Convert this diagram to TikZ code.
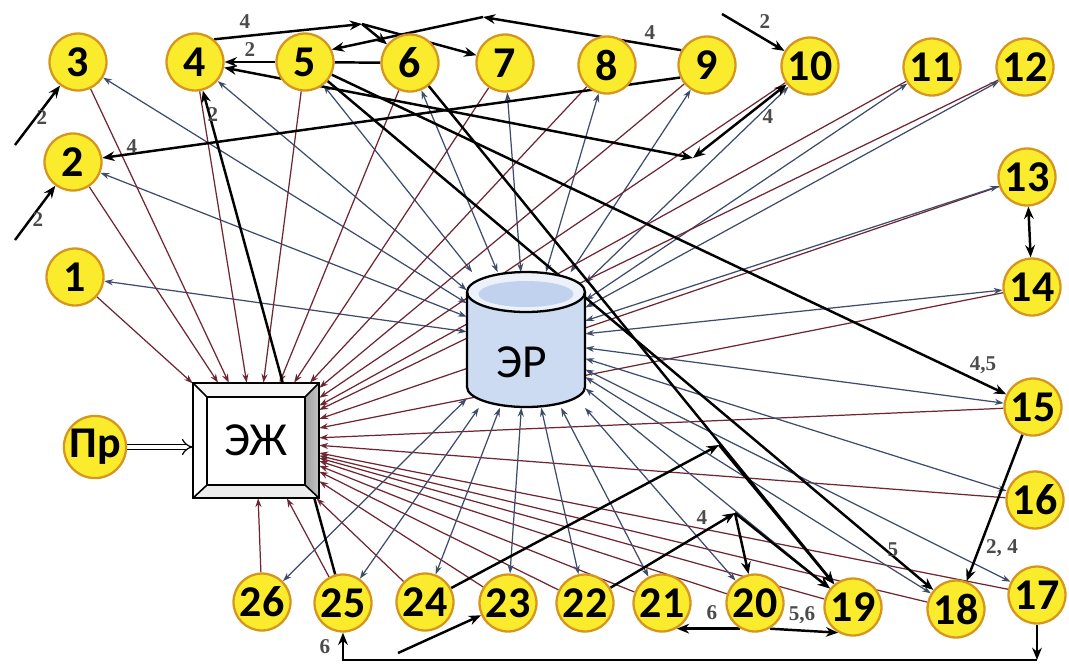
\documentclass[tikz,border=0pt]{standalone}
\usepackage{fontspec}
\setmainfont{Carlito}
\newfontfamily\lblfont{Liberation Serif}
\usetikzlibrary{arrows.meta}
\pgfdeclarelayer{paper}
\pgfdeclarelayer{bg}
\pgfsetlayers{paper,bg,main}
\definecolor{yel}{RGB}{250,236,45}
\definecolor{ora}{RGB}{214,150,30}
\definecolor{redl}{RGB}{110,38,50}
\definecolor{bluel}{RGB}{62,76,108}
\definecolor{lblc}{RGB}{75,75,75}
\definecolor{erfill}{RGB}{204,219,241}
\definecolor{ertop}{RGB}{236,241,250}
\definecolor{erin}{RGB}{192,210,238}
\begin{document}
\begin{tikzpicture}[x=0.02cm,y=-0.02cm,
  cnode/.style={circle, draw=ora, line width=1.3pt, fill=yel, minimum size=1.14cm, inner sep=0pt, font=\bfseries\fontsize{25}{25}\selectfont},
  redln/.style={draw=redl, line width=0.7pt, -{Stealth[length=5pt,width=3.5pt]}},
  blueln/.style={draw=bluel, line width=0.7pt, {Stealth[length=5pt,width=3.5pt]}-{Stealth[length=5pt,width=3.5pt]}},
  blk/.style={draw=black, line width=1.4pt, -{Stealth[length=7pt,width=5.5pt]}},
  blktwo/.style={draw=black, line width=1.4pt, {Stealth[length=7pt,width=5.5pt]}-{Stealth[length=7pt,width=5.5pt]}},
  blkline/.style={draw=black, line width=1.4pt},
  lbl/.style={font=\lblfont\bfseries\fontsize{12}{12}\selectfont, text=lblc, inner sep=0pt},
]
\begin{pgfonlayer}{paper}
\fill[white] (0,0) rectangle (1069,664);
\end{pgfonlayer}
\useasboundingbox (0,0) rectangle (1069,664);

% ---- EJ beveled box
\fill[white] (193,383) rectangle (319,498);
\fill[gray!6] (193,383) -- (319,383) -- (305,397) -- (207,397) -- cycle;
\shade[left color=gray!75, right color=gray!45] (319,383) -- (319,498) -- (305,485) -- (305,397) -- cycle;
\fill[gray!14] (193,498) -- (319,498) -- (305,485) -- (207,485) -- cycle;
\draw[line width=1.3pt] (193,383) rectangle (319,498);
\draw[line width=1.1pt] (207,397) rectangle (305,485);
\draw[line width=0.9pt] (193,383) -- (207,397) (319,383) -- (305,397) (193,498) -- (207,485) (319,498) -- (305,485);
\node[minimum width=2.52cm, minimum height=2.3cm, inner sep=0pt, font=\fontsize{27}{27}\selectfont] (EJ) at (256,440.5) {ЭЖ};

% ---- ER cylinder
\fill[erfill] (467,292) -- (467,387) arc[start angle=180,end angle=360,x radius=1.18cm,y radius=0.4cm] -- (585,292) -- cycle;
\fill[ertop] (526,292) ellipse[x radius=1.18cm, y radius=0.4cm];
\fill[erin] (526,294) ellipse[x radius=0.95cm, y radius=0.26cm];
\draw[line width=1.3pt] (526,292) ellipse[x radius=1.18cm, y radius=0.4cm];
\draw[line width=1.3pt] (467,292) -- (467,387) arc[start angle=180,end angle=360,x radius=1.18cm,y radius=0.4cm] -- (585,292);
\node[minimum width=2.36cm, minimum height=2.7cm, inner sep=0pt] (ER) at (526,340) {};
\node[font=\fontsize{27}{27}\selectfont] (ERtxt) at (522,362) {ЭР};

% ---- circle nodes
\node[cnode] (n1) at (75,277) {1};
\node[cnode] (n2) at (73,162) {2};
\node[cnode] (n3) at (78,62) {3};
\node[cnode] (n4) at (195,62) {4};
\node[cnode] (n5) at (305,62) {5};
\node[cnode] (n6) at (410,63) {6};
\node[cnode] (n7) at (505,63) {7};
\node[cnode] (n8) at (607,65) {8};
\node[cnode] (n9) at (707,65) {9};
\node[cnode] (n10) at (810,66) {10};
\node[cnode] (n11) at (932,67) {11};
\node[cnode] (n12) at (1025,67) {12};
\node[cnode] (n13) at (1027,177) {13};
\node[cnode] (n14) at (1032,287) {14};
\node[cnode] (n15) at (1033,407) {15};
\node[cnode] (n16) at (1035,500) {16};
\node[cnode] (n17) at (1037,595) {17};
\node[cnode] (n18) at (956,609) {18};
\node[cnode] (n19) at (853,607) {19};
\node[cnode] (n20) at (755,603) {20};
\node[cnode] (n21) at (662,603) {21};
\node[cnode] (n22) at (585,603) {22};
\node[cnode] (n23) at (508,603) {23};
\node[cnode] (n24) at (425,602) {24};
\node[cnode] (n25) at (343,603) {25};
\node[cnode] (n26) at (262,602) {26};
\node[cnode, minimum size=1.04cm] (pr) at (95,447) {Пр};

% ---- free ends and junctions
\coordinate (s3) at (15,145);
\coordinate (s2) at (15,240);
\coordinate (s10) at (722,14);
\coordinate (s23) at (398,653);
\coordinate (jA) at (362,24);
\coordinate (jB) at (483,17);
\coordinate (jC) at (693,158);
\coordinate (jD) at (719,445);
\coordinate (jE) at (735,513);
\coordinate (b1) at (1037,660);
\coordinate (b2) at (343,660);

\begin{pgfonlayer}{bg}
  \foreach \i in {1,...,26} {
    \draw[redln] (n\i) -- (EJ);
    \draw[blueln] (ER) -- (n\i);
  }
  \draw[blk] (s3) -- (n3);
  \draw[blk] (s2) -- (n2);
  \draw[blk] (n9.205) -- (n2);
  \draw[blk] (n4.50) -- (jA);
  \draw[blk] (jA) -- (n6);
  \draw[blk] (jA) -- (n7);
  \draw[blk] (n9.150) -- (jB);
  \draw[blk] (jB) -- (n5.25);
  \draw[blkline] (n6) -- (n5);
  \draw[blk] (n5) -- (n4);
  \draw[blk] (n25) -- (n4);
  \draw[blktwo] (n4) -- (jC);
  \draw[blktwo] (jC) -- (n10);
  \draw[blk] (s10) -- (n10);
  \draw[blk] (n5) -- (n15);
  \draw[blk] (n5) -- (n18);
  \draw[blk] (n6) -- (n19);
  \draw[blk] (n24) -- (jD);
  \draw[blk] (jD) -- (n19);
  \draw[blk] (n22) -- (jE);
  \draw[blk] (jE) -- (n20);
  \draw[blk] (jE) -- (n19);
  \draw[blk] (n20.-120) -- (n21.-60);
  \draw[blk] (n20.-60) -- (n19.-120);
  \draw[blk] (n15) -- (n18);
  \draw[blktwo] (n13) -- (n14);
  \draw[blk] (n17) -- (b1);
  \draw[blk] (b1) -- (b2) -- (n25);
  \draw[blk] (s23) -- (n23);
  \draw[double, double distance=2.5pt, line width=0.7pt, -{Implies}] (pr.east) -- (pr.east -| EJ.west);
\end{pgfonlayer}

% ---- labels
\node[lbl] (l1) at (42,118) {2};
\node[lbl] (l2) at (38,220) {2};
\node[lbl] (l3) at (132,147) {4};
\node[lbl] (l4) at (245,22) {4};
\node[lbl] (l5) at (250,50) {2};
\node[lbl] (l6) at (213,115) {2};
\node[lbl] (l7) at (650,33) {4};
\node[lbl] (l8) at (765,22) {2};
\node[lbl] (l9) at (768,117) {4};
\node[lbl] (l10) at (983,365) {4,5};
\node[lbl] (l11) at (893,550) {5};
\node[lbl] (l12) at (1002,548) {2, 4};
\node[lbl] (l13) at (702,518) {4};
\node[lbl] (l14) at (712,613) {6};
\node[lbl] (l15) at (802,615) {5,6};
\node[lbl] (l16) at (325,647) {6};
\end{tikzpicture}
\end{document}
